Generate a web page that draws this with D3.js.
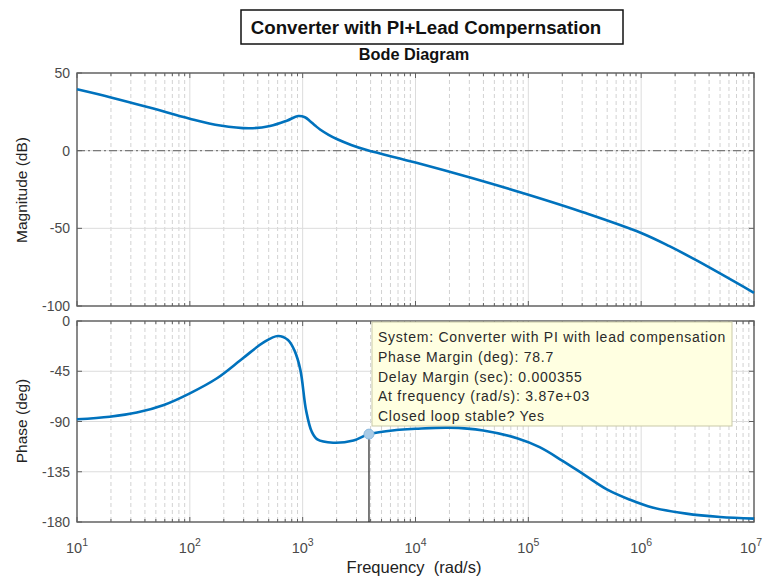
<!DOCTYPE html>
<html>
<head>
<meta charset="utf-8">
<script src="https://cdn.jsdelivr.net/npm/d3@7"></script>
<style>
body { margin: 0; background: #fff; }
svg text { font-family: "Liberation Sans", Arial, Helvetica, sans-serif; }
</style>
</head>
<body>
<svg id="chart" width="763" height="577"></svg>
<script>
// magnitude curve
var magFreq = [10, 20, 44.7, 100, 186, 339, 513, 724, 912, 1047, 1164, 1288, 1426, 1698, 2004, 2692, 3700,
	10000, 31600, 100000, 316000, 1000000, 1780000, 3160000, 10000000];
var magDb = [39.5, 34.3, 27.6, 20.6, 16.2, 14.4, 15.9, 19.3, 22.3, 21.5, 19.0, 16.2, 13.6, 10.2, 7.5, 3.7, 0.4,
	-7.6, -17.6, -28.4, -40.0, -53.0, -61.5, -71.0, -91.5];

// phase curve
var phaseFreq = [10, 19.5, 33.9, 58.9, 100, 174, 295, 447, 603, 741, 851, 955, 1072, 1202, 1349,
	1862, 2818, 3870, 6761, 10000, 19950, 39810, 79430, 125900, 199500, 316200, 501200,
	794300, 1259000, 2512000, 5012000, 10000000];
var phaseDeg = [-88, -85.7, -82, -75.2, -64.8, -51.3, -33.4, -19.4, -13.4, -17, -27, -44, -80, -99, -106,
	-109, -107, -101.3, -97.6, -96.5, -95.5, -98, -105, -113, -125, -138, -151,
	-160, -167, -172.5, -175.5, -177];

var decades = [1, 2, 3, 4, 5, 6, 7];
var magTicks = [50, 0, -50, -100];
var phaseTicks = [0, -45, -90, -135, -180];

var pmFreq = 3870, pmPhase = -101.3;
var infoLines = [
	"System: Converter with PI with lead compensation",
	"Phase Margin (deg): 78.7",
	"Delay Margin (sec): 0.000355",
	"At frequency (rad/s): 3.87e+03",
	"Closed loop stable? Yes"
];

var svg = d3.select("#chart");
var lineBlue = "#0072bd";
var axisCol = "#5f5f5f";

var x = d3.scaleLog().domain([10, 1e7]).range([77, 754]);
var yMag = d3.scaleLinear().domain([-100, 50]).range([306, 73]);
var yPh = d3.scaleLinear().domain([-180, 0]).range([522, 321]);

var majors = decades.map(function(d) { return Math.pow(10, d); });
var minors = [];
for (var d = 1; d < 7; ++d)
	for (var k = 2; k < 10; ++k)
		minors.push(k * Math.pow(10, d));

function panel(y, ticks, zeroLine) {
	var g = svg.append("g");
	var y0 = y.range()[1], y1 = y.range()[0];

	// grid
	g.selectAll(".minor").data(minors).enter().append("line")
		.attr("x1", function(d) { return x(d); })
		.attr("x2", function(d) { return x(d); })
		.attr("y1", y0).attr("y2", y1)
		.attr("stroke", "#d2d2d2").attr("stroke-width", 1)
		.attr("stroke-dasharray", "4,3");
	g.selectAll(".major").data(majors).enter().append("line")
		.attr("x1", function(d) { return x(d); })
		.attr("x2", function(d) { return x(d); })
		.attr("y1", y0).attr("y2", y1)
		.attr("stroke", "#dcdcdc").attr("stroke-width", 1);
	g.selectAll(".hgrid").data(ticks).enter().append("line")
		.attr("x1", x.range()[0]).attr("x2", x.range()[1])
		.attr("y1", function(d) { return y(d); })
		.attr("y2", function(d) { return y(d); })
		.attr("stroke", "#dcdcdc").attr("stroke-width", 1);

	if (zeroLine != null)
		g.append("line")
			.attr("x1", x.range()[0]).attr("x2", x.range()[1])
			.attr("y1", y(zeroLine)).attr("y2", y(zeroLine))
			.attr("stroke", "#7a7a7a").attr("stroke-width", 1.3)
			.attr("stroke-dasharray", "8,3,2,3");

	// inward ticks on all four sides
	var tk = function(vals, len) {
		vals.forEach(function(v) {
			g.append("line").attr("x1", x(v)).attr("x2", x(v))
				.attr("y1", y1).attr("y2", y1 - len)
				.attr("stroke", axisCol).attr("stroke-width", 1);
			g.append("line").attr("x1", x(v)).attr("x2", x(v))
				.attr("y1", y0).attr("y2", y0 + len)
				.attr("stroke", axisCol).attr("stroke-width", 1);
		});
	};
	tk(minors, 3);
	tk(majors, 5);
	ticks.forEach(function(v) {
		g.append("line").attr("x1", x.range()[0]).attr("x2", x.range()[0] + 5)
			.attr("y1", y(v)).attr("y2", y(v)).attr("stroke", axisCol);
		g.append("line").attr("x1", x.range()[1]).attr("x2", x.range()[1] - 5)
			.attr("y1", y(v)).attr("y2", y(v)).attr("stroke", axisCol);
	});

	g.append("rect")
		.attr("x", x.range()[0]).attr("y", y0)
		.attr("width", x.range()[1] - x.range()[0]).attr("height", y1 - y0)
		.attr("fill", "none").attr("stroke", axisCol).attr("stroke-width", 1.4);

	g.selectAll(".ylab").data(ticks).enter().append("text")
		.attr("x", 70).attr("y", function(d) { return y(d) + 5; })
		.attr("text-anchor", "end")
		.attr("font-size", 14).attr("fill", "#4a4a4a")
		.text(function(d) { return d; });
	return g;
}

panel(yMag, magTicks, 0);
panel(yPh, phaseTicks, null);

var magLine = d3.line()
	.x(function(d, i) { return x(magFreq[i]); })
	.y(function(d) { return yMag(d); })
	.curve(d3.curveCatmullRom.alpha(0.5));
svg.append("path").attr("d", magLine(magDb))
	.attr("fill", "none").attr("stroke", lineBlue).attr("stroke-width", 2.6);

var phLine = d3.line()
	.x(function(d, i) { return x(phaseFreq[i]); })
	.y(function(d) { return yPh(d); })
	.curve(d3.curveCatmullRom.alpha(0.5));
svg.append("path").attr("d", phLine(phaseDeg))
	.attr("fill", "none").attr("stroke", lineBlue).attr("stroke-width", 2.6);

// phase margin marker
svg.append("line")
	.attr("x1", x(pmFreq)).attr("x2", x(pmFreq))
	.attr("y1", yPh(pmPhase)).attr("y2", yPh(-180))
	.attr("stroke", "#222").attr("stroke-width", 1.2);
svg.append("circle")
	.attr("cx", x(pmFreq)).attr("cy", yPh(pmPhase)).attr("r", 5)
	.attr("fill", "#a9cbe6").attr("stroke", "#8dbbe0");

// datatip
var tip = svg.append("g");
tip.append("rect")
	.attr("x", 372).attr("y", 322).attr("width", 360).attr("height", 104)
	.attr("fill", "#ffffe1").attr("stroke", "#c9c9a8");
tip.selectAll("text").data(infoLines).enter().append("text")
	.attr("x", 378).attr("y", function(d, i) { return 342 + i * 19.8; })
	.attr("font-size", 14).attr("letter-spacing", 0.75).attr("fill", "#2a2a2a")
	.text(function(d) { return d; });

// x tick labels 10^n, last one pulled in from the edge
var xl = svg.selectAll(".xlab").data(decades).enter().append("text")
	.attr("x", function(d, i) { return i == decades.length - 1 ? 762 : x(Math.pow(10, d)); })
	.attr("y", 553)
	.attr("text-anchor", function(d, i) { return i == decades.length - 1 ? "end" : "middle"; })
	.attr("font-size", 14.5).attr("fill", "#4a4a4a");
xl.append("tspan").text("10");
xl.append("tspan").attr("dy", -7).attr("font-size", 10.5)
	.text(function(d) { return d; });

// axis labels
svg.append("text")
	.attr("transform", "translate(27,190) rotate(-90)")
	.attr("text-anchor", "middle").attr("font-size", 15.5).attr("fill", "#222")
	.text("Magnitude (dB)");
svg.append("text")
	.attr("transform", "translate(27,421) rotate(-90)")
	.attr("text-anchor", "middle").attr("font-size", 15.5).attr("fill", "#222")
	.text("Phase (deg)");
svg.append("text")
	.attr("x", 414).attr("y", 573)
	.attr("text-anchor", "middle").attr("font-size", 16.5).attr("fill", "#222")
	.attr("xml:space", "preserve")
	.text("Frequency  (rad/s)");

// titles
svg.append("rect")
	.attr("x", 241).attr("y", 10).attr("width", 382).attr("height", 34)
	.attr("fill", "#fff").attr("stroke", "#111").attr("stroke-width", 1.5);
svg.append("text")
	.attr("x", 426).attr("y", 33.5)
	.attr("text-anchor", "middle").attr("font-size", 18.7).attr("font-weight", "bold")
	.attr("fill", "#111")
	.text("Converter with PI+Lead Compernsation");
svg.append("text")
	.attr("x", 414).attr("y", 60)
	.attr("text-anchor", "middle").attr("font-size", 16.3).attr("font-weight", "bold")
	.attr("fill", "#111")
	.text("Bode Diagram");
</script>
</body>
</html>
